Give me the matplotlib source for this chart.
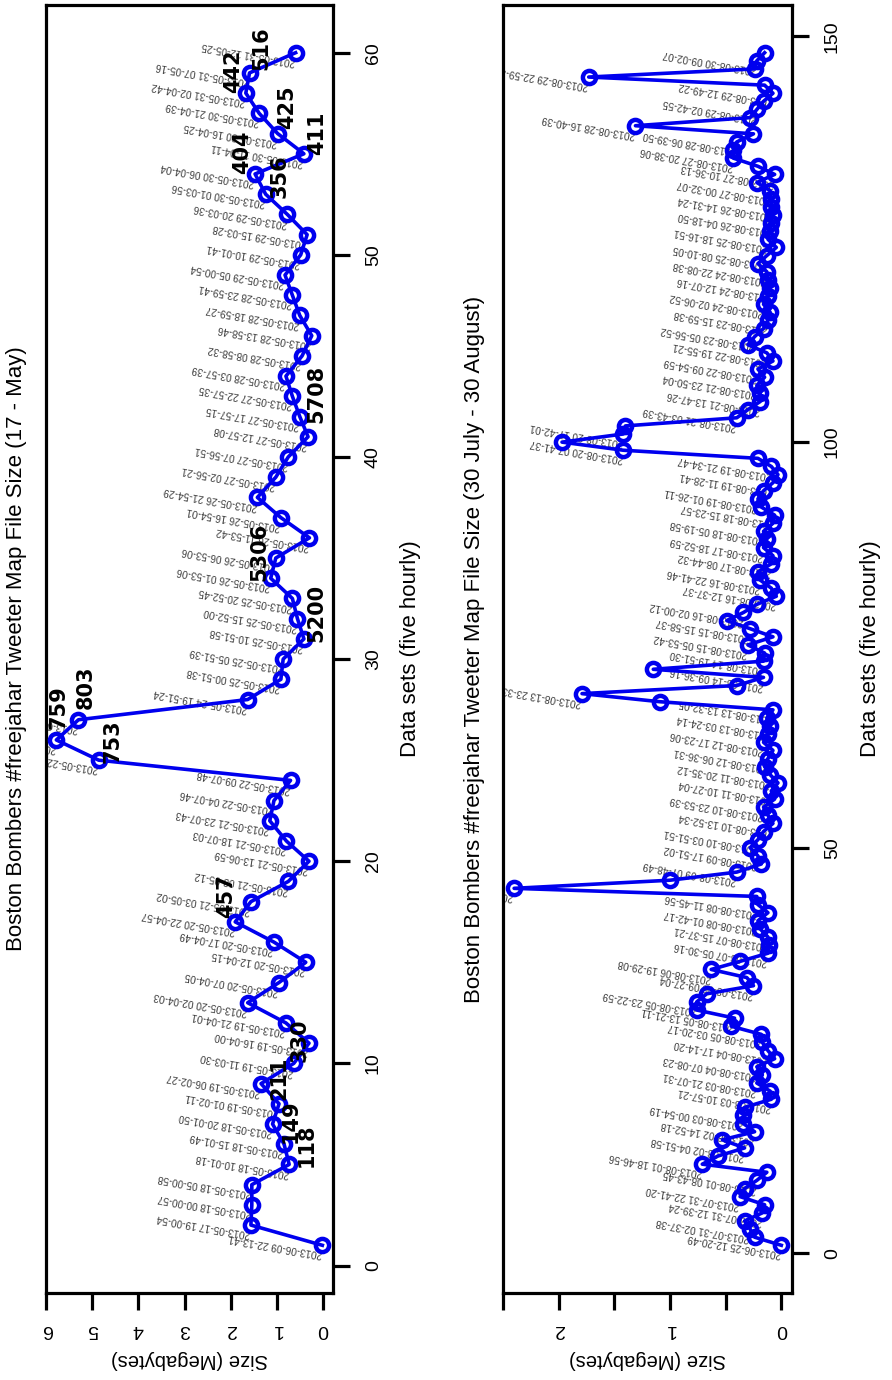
import matplotlib
matplotlib.use("Agg")
import matplotlib.pyplot as plt

plt.rcParams['font.family'] = ['Liberation Sans', 'DejaVu Sans']

# ---- 17 - 31 May: map file size (MB), one file every five hours ----
may_size = [0.01, 1.56, 1.54, 1.54, 0.73, 0.84, 1.09, 0.95, 1.34, 0.63,
            0.30, 0.80, 1.63, 0.95, 0.37, 1.06, 1.90, 1.56, 0.75, 0.30,
            0.79, 1.15, 1.06, 0.70, 4.86, 5.78, 5.30, 1.63, 0.91, 0.86,
            0.41, 0.55, 0.66, 1.13, 1.02, 0.29, 0.91, 1.42, 1.02, 0.75,
            0.32, 0.50, 0.66, 0.80, 0.45, 0.24, 0.50, 0.66, 0.82, 0.48,
            0.34, 0.77, 1.24, 1.47, 0.41, 0.98, 1.38, 1.67, 1.59, 0.59]

may_stamp = [
    "2013-06-09 22-13-41", "2013-05-17 19-00-54", "2013-05-18 00-00-57",
    "2013-05-18 05-00-58", "2013-05-18 10-01-18", "2013-05-18 15-01-49",
    "2013-05-18 20-01-50", "2013-05-19 01-02-11", "2013-05-19 06-02-27",
    "2013-05-19 11-03-30", "2013-05-19 16-04-00", "2013-05-19 21-04-01",
    "2013-05-20 02-04-03", "2013-05-20 07-04-05", "2013-05-20 12-04-15",
    "2013-05-20 17-04-49", "2013-05-20 22-04-57", "2013-05-21 03-05-02",
    "2013-05-21 08-05-12", "2013-05-21 13-06-59", "2013-05-21 18-07-03",
    "2013-05-21 23-07-43", "2013-05-22 04-07-46", "2013-05-22 09-07-48",
    "2013-05-22 14-08-02", "2013-05-22 19-08-15", "2013-05-24 14-50-47",
    "2013-05-24 19-51-24", "2013-05-25 00-51-38", "2013-05-25 05-51-39",
    "2013-05-25 10-51-58", "2013-05-25 15-52-00", "2013-05-25 20-52-45",
    "2013-05-26 01-53-06", "2013-05-26 06-53-06", "2013-05-26 11-53-42",
    "2013-05-26 16-54-01", "2013-05-26 21-54-29", "2013-05-27 02-56-21",
    "2013-05-27 07-56-51", "2013-05-27 12-57-08", "2013-05-27 17-57-15",
    "2013-05-27 22-57-35", "2013-05-28 03-57-39", "2013-05-28 08-58-32",
    "2013-05-28 13-58-46", "2013-05-28 18-59-27", "2013-05-28 23-59-41",
    "2013-05-29 05-00-54", "2013-05-29 10-01-41", "2013-05-29 15-03-28",
    "2013-05-29 20-03-36", "2013-05-30 01-03-56", "2013-05-30 06-04-04",
    "2013-05-30 11-04-11", "2013-05-30 16-04-25", "2013-05-30 21-04-39",
    "2013-05-31 02-04-42", "2013-05-31 07-05-16", "2013-05-31 12-05-25"]

# bold counts written beside some of the May points
may_note = ["118", "149", "211", "330", "457", "753", "759", "803", "5200",
            "5306", "5708", "404", "356", "411", "425", "442", "516"]
may_note_mb = [0.34, 0.69, 0.95, 0.50, 2.09, 4.57, 5.73, 5.15, 0.13,
               1.38, 0.13, 1.75, 0.93, 0.13, 0.78, 1.94, 1.34]
may_note_at = [5.97, 7.15, 9.27, 11.15, 18.25, 25.95, 27.6, 28.6, 32.3,
               35.3, 43.1, 55.06, 53.9, 56.0, 57.3, 59.1, 60.2]

# ---- 30 July - 30 August ----
aug_size = [0.00, 0.24, 0.28, 0.33, 0.17, 0.15, 0.37, 0.33, 0.22, 0.13,
            0.71, 0.57, 0.33, 0.53, 0.24, 0.34, 0.34, 0.33, 0.09, 0.10,
            0.22, 0.17, 0.22, 0.06, 0.12, 0.17, 0.18, 0.45, 0.42, 0.76,
            0.76, 0.67, 0.25, 0.31, 0.63, 0.37, 0.12, 0.11, 0.12, 0.19,
            0.21, 0.12, 0.21, 0.22, 2.40, 1.00, 0.40, 0.18, 0.21, 0.28,
            0.21, 0.16, 0.075, 0.12, 0.16, 0.06, 0.09, 0.03, 0.10, 0.15,
            0.12, 0.075, 0.16, 0.12, 0.10, 0.13, 0.075, 1.09, 1.79, 0.40,
            0.16, 1.15, 0.16, 0.15, 0.30, 0.075, 0.28, 0.49, 0.34, 0.22,
            0.045, 0.09, 0.19, 0.21, 0.09, 0.075, 0.16, 0.13, 0.16, 0.075,
            0.06, 0.18, 0.21, 0.16, 0.075, 0.03, 0.09, 0.21, 1.42, 1.97,
            1.42, 1.40, 0.40, 0.30, 0.19, 0.19, 0.22, 0.15, 0.21, 0.075,
            0.13, 0.30, 0.24, 0.16, 0.12, 0.10, 0.16, 0.12, 0.10, 0.12,
            0.13, 0.21, 0.13, 0.045, 0.12, 0.10, 0.09, 0.075, 0.09, 0.09,
            0.10, 0.22, 0.06, 0.21, 0.43, 0.43, 0.40, 0.25, 1.31, 0.28,
            0.22, 0.16, 0.075, 0.15, 1.73, 0.24, 0.22, 0.15]

# every second file is stamped
aug_stamp = [
    "2013-06-25 12-20-49", "2013-07-31 02-37-38", "2013-07-31 12-39-24",
    "2013-07-31 22-41-20", "2013-08-01 08-43-45", "2013-08-01 18-46-56",
    "2013-08-02 04-51-58", "2013-08-02 14-52-18", "2013-08-03 00-54-19",
    "2013-08-03 10-57-21", "2013-08-03 21-07-31", "2013-08-04 07-08-23",
    "2013-08-04 17-14-20", "2013-08-05 03-20-17", "2013-08-05 13-21-11",
    "2013-08-05 23-22-59", "2013-08-06 09-27-04", "2013-08-06 19-29-08",
    "2013-08-07 05-30-16", "2013-08-07 15-37-21", "2013-08-08 01-42-17",
    "2013-08-08 11-45-56", "2013-08-08 21-48-22", "2013-08-09 07-48-49",
    "2013-08-09 17-51-02", "2013-08-10 03-51-51", "2013-08-10 13-52-34",
    "2013-08-10 23-53-39", "2013-08-11 10-27-04", "2013-08-11 20-35-12",
    "2013-08-12 06-36-31", "2013-08-12 17-23-06", "2013-08-13 03-24-14",
    "2013-08-13 13-32-05", "2013-08-13 23-33-40", "2013-08-14 09-36-16",
    "2013-08-14 19-51-30", "2013-08-15 05-53-42", "2013-08-15 15-58-37",
    "2013-08-16 02-00-12", "2013-08-16 12-37-37", "2013-08-16 22-41-46",
    "2013-08-17 08-44-32", "2013-08-17 18-52-59", "2013-08-18 05-19-58",
    "2013-08-18 15-23-57", "2013-08-19 01-26-11", "2013-08-19 11-28-41",
    "2013-08-19 21-34-47", "2013-08-20 07-41-37", "2013-08-20 17-42-01",
    "2013-08-21 03-43-39", "2013-08-21 13-47-26", "2013-08-21 23-50-04",
    "2013-08-22 09-54-59", "2013-08-22 19-55-21", "2013-08-23 05-56-52",
    "2013-08-23 15-59-38", "2013-08-24 02-06-52", "2013-08-24 12-07-16",
    "2013-08-24 22-08-38", "2013-08-25 08-10-05", "2013-08-25 18-16-51",
    "2013-08-26 04-18-50", "2013-08-26 14-31-24", "2013-08-27 00-32-07",
    "2013-08-27 10-36-13", "2013-08-27 20-38-06", "2013-08-28 06-39-50",
    "2013-08-28 16-40-39", "2013-08-29 02-42-55", "2013-08-29 12-49-22",
    "2013-08-29 22-59-31", "2013-08-30 09-02-07"]

BLUE = '#0000ee'
W, H = 892, 1380


def panel(rect, size, stamps, step, title, xticks, xticklabels, yticks):
    ax = fig.add_axes(rect)
    n = len(size)
    pos = list(range(1, n + 1))
    ax.plot(size, pos, color=BLUE, lw=2.6, marker='o', ms=9.5,
            mfc='none', mec=BLUE, mew=3.2, zorder=3)
    for i, s in zip(pos[::step], stamps):
        ax.annotate(s, (size[i - 1], i), xytext=(0.5, -3),
                    textcoords='offset points', rotation=170,
                    rotation_mode='anchor', ha='left', va='bottom',
                    fontsize=7.2, color='#3c3c3c', zorder=2,
                    annotation_clip=True, clip_on=True)

    lo, hi = min(size), max(size)
    ax.set_xlim(hi + 0.04 * (hi - lo), lo - 0.04 * (hi - lo))
    ax.set_ylim(1 - 0.04 * (n - 1), n + 0.04 * (n - 1))

    for sp in ax.spines.values():
        sp.set_linewidth(2.3)
    ax.yaxis.tick_right()
    ax.set_xticks(xticks)
    ax.set_xticklabels(xticklabels)
    ax.set_yticks(yticks)
    ax.tick_params(length=12, width=2.3, labelsize=14, direction='out')
    ax.tick_params(axis='x', labelrotation=180, pad=8)
    ax.tick_params(axis='y', labelrotation=90, pad=11)
    for t in ax.get_yticklabels():
        t.set_va('center')

    ax.text(0.5, -0.052, 'Size (Megabytes)', transform=ax.transAxes,
            rotation=180, ha='center', va='center', fontsize=14.5)
    ax.text(1.27, 0.5, 'Data sets (five hourly)', transform=ax.transAxes,
            rotation=90, ha='center', va='center', fontsize=16)
    ax.text(-0.1, 0.5, title, transform=ax.transAxes,
            rotation=90, ha='center', va='center', fontsize=16)
    return ax


fig = plt.figure(figsize=(W / 100, H / 100), dpi=100)

ax1 = panel([45.7 / W, 87 / H, 287.3 / W, 1288 / H], may_size, may_stamp, 1,
            'Boston Bombers #freejahar Tweeter Map File Size (17 - May)',
            [0, 1, 2, 3, 4, 5, 6], ['0', '1', '2', '3', '4', '5', '6'],
            [0, 10, 20, 30, 40, 50, 60])
for txt, mb, at in zip(may_note, may_note_mb, may_note_at):
    ax1.text(mb, at, txt, rotation=90, ha='center', va='center',
             fontsize=15, fontweight='bold', family='DejaVu Sans', zorder=4)

ax2 = panel([503 / W, 87 / H, 289 / W, 1288 / H], aug_size, aug_stamp, 2,
            'Boston Bombers #freejahar Tweeter Map File Size (30 July - 30 August)',
            [0, 0.5, 1, 1.5, 2, 2.5], ['0', '', '1', '', '2', ''],
            [0, 50, 100, 150])

fig.savefig('out.png', dpi=100)
